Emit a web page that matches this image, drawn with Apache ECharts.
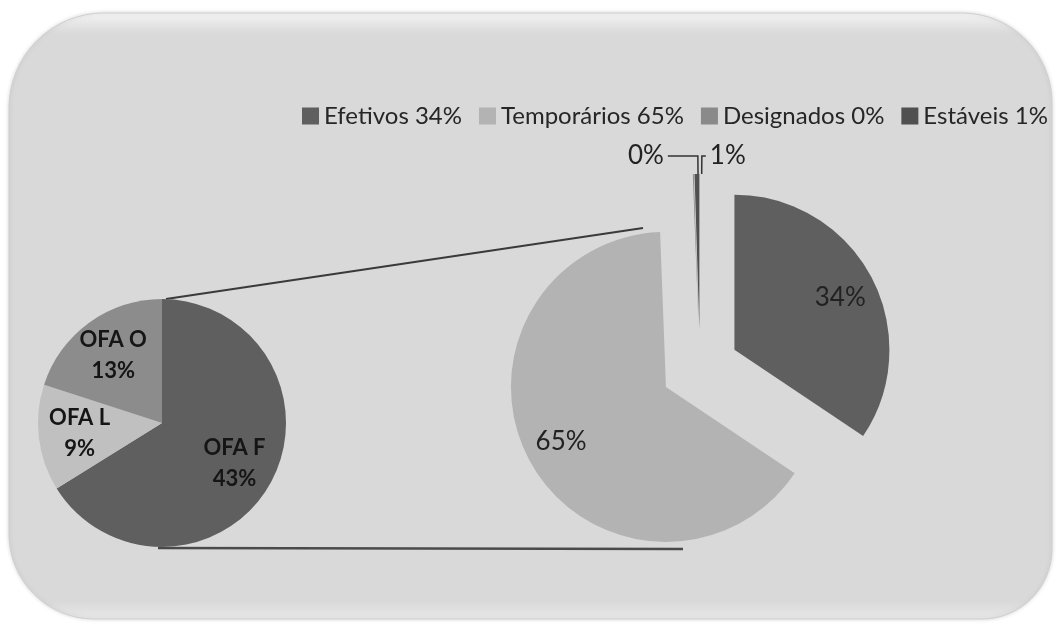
<!DOCTYPE html>
<html lang="pt">
<head>
<meta charset="UTF-8" />
<title>Servidores por vínculo</title>
<script src="https://cdn.jsdelivr.net/npm/echarts@6.0.0/dist/echarts.min.js"></script>
<style>
  html, body { margin: 0; padding: 0; background: #fff; }
  #chart { width: 1056px; height: 627px; }
</style>
</head>
<body>
<div id="chart"></div>
<script>
  // vínculo dos servidores (pizza da direita)
  var vinculoNomes = ['Efetivos', 'Temporários', 'Designados', 'Estáveis'];
  var vinculoValores = [34.4, 65.0, 0.1, 0.5];
  var vinculoCores = ['#5f5f5f', '#b3b3b3', '#8a8a8a', '#505050'];
  // detalhamento dos temporários (pizza da esquerda)
  var ofaNomes = ['OFA F', 'OFA L', 'OFA O'];
  var ofaValores = [43, 9, 13];
  var ofaCores = ['#5f5f5f', '#c0c0c0', '#8c8c8c'];

  var esq = { cx: 162, cy: 423, r: 124 };
  var dir = { cx: 700, cy: 368, r: 155, afasta: 39 };
  // linhas que ligam as duas pizzas
  var ligaTopo = [[esq.cx + 4, esq.cy - esq.r], [643, 228]];
  var ligaBase = [[esq.cx - 4, esq.cy + esq.r + 1], [683, 549]];

  var fonte = 'Lato, "Open Sans", sans-serif';

  function pct(v) { return Math.round(v) + '%'; }

  var chart = echarts.init(document.getElementById('chart'));

  var dadosDir = vinculoNomes.map(function (n, i) {
    return { name: n, value: vinculoValores[i], selected: true, itemStyle: { color: vinculoCores[i] } };
  });
  // rótulos da direita: dentro para as fatias grandes, fora com linha para as pequenas
  var rotDir = vinculoNomes.map(function (n, i) {
    var item = { name: n, value: vinculoValores[i], selected: true };
    if (vinculoValores[i] < 5) {
      item.label = { position: 'outside' };
      item.labelLine = { show: true, length: 18, length2: i == 2 ? 30 : 4 };
    } else {
      item.label = { position: 'inside' };
      item.labelLine = { show: false };
    }
    return item;
  });
  var dadosEsq = ofaNomes.map(function (n, i) {
    return { name: n, value: ofaValores[i], itemStyle: { color: ofaCores[i] } };
  });

  var option = {
    animation: false,
    graphic: [
      {
        type: 'rect', z: -10, silent: true,
        shape: { x: 9, y: 13, width: 1043, height: 606, r: [95, 90, 70, 85] },
        style: {
          fill: new echarts.graphic.LinearGradient(0, 0, 0, 1, [
            { offset: 0, color: '#f4f4f4' },
            { offset: 0.035, color: '#d9d9d9' },
            { offset: 0.97, color: '#d9d9d9' },
            { offset: 1, color: '#e8e8e8' }
          ]),
          stroke: '#cfcfcf', lineWidth: 1,
          shadowColor: 'rgba(0,0,0,0.15)', shadowBlur: 4
        }
      },
      { type: 'polyline', z: 1, silent: true, shape: { points: ligaTopo }, style: { stroke: '#3a3a3a', lineWidth: 2 } },
      { type: 'polyline', z: 1, silent: true, shape: { points: ligaBase }, style: { stroke: '#4a4a4a', lineWidth: 2.5 } }
    ],
    legend: {
      data: vinculoNomes.map(function (n, i) { return { name: n, itemStyle: { color: vinculoCores[i] } }; }),
      left: 297, top: 99,
      icon: 'rect', itemWidth: 17, itemHeight: 17, itemGap: 17,
      selectedMode: false,
      textStyle: { fontFamily: fonte, fontSize: 24, color: '#262626' },
      formatter: function (name) {
        return name + ' ' + pct(vinculoValores[vinculoNomes.indexOf(name)]);
      }
    },
    series: [
      {
        type: 'pie', silent: true,
        center: [esq.cx, esq.cy], radius: esq.r, startAngle: 90,
        itemStyle: { borderWidth: 0 },
        label: { show: false }, labelLine: { show: false },
        emphasis: { disabled: true },
        data: dadosEsq
      },
      {
        // só rótulos
        type: 'pie', silent: true, z: 3,
        center: [esq.cx, esq.cy], radius: [36, esq.r], startAngle: 90,
        itemStyle: { color: 'rgba(0,0,0,0)', borderWidth: 0 },
        label: {
          show: true, position: 'inside',
          fontFamily: fonte, fontWeight: 'bold', fontSize: 22, lineHeight: 31, color: '#151515',
          formatter: function (p) { return p.name + '\n' + pct(p.value); }
        },
        labelLine: { show: false },
        emphasis: { disabled: true },
        data: ofaNomes.map(function (n, i) { return { name: n, value: ofaValores[i] }; })
      },
      {
        type: 'pie', silent: true,
        center: [dir.cx, dir.cy], radius: dir.r, startAngle: 90,
        selectedMode: 'multiple', selectedOffset: dir.afasta,
        avoidLabelOverlap: false,
        itemStyle: { borderWidth: 0 },
        select: { itemStyle: { borderWidth: 0 } },
        label: { show: false }, labelLine: { show: false },
        emphasis: { disabled: true },
        data: dadosDir
      },
      {
        // só rótulos
        type: 'pie', silent: true, z: 3,
        center: [dir.cx, dir.cy], radius: [75, dir.r], startAngle: 88.6,
        selectedMode: 'multiple', selectedOffset: dir.afasta,
        avoidLabelOverlap: false,
        itemStyle: { color: 'rgba(0,0,0,0)', borderWidth: 0 },
        select: { itemStyle: { color: 'rgba(0,0,0,0)', borderWidth: 0 } },
        label: {
          show: true, fontFamily: fonte, fontSize: 26, color: '#222',
          distanceToLabelLine: 4,
          formatter: function (p) { return pct(p.value); }
        },
        labelLine: { lineStyle: { color: '#333', width: 1.5 } },
        emphasis: { disabled: true },
        data: rotDir
      }
    ]
  };

  chart.setOption(option);
</script>
</body>
</html>
